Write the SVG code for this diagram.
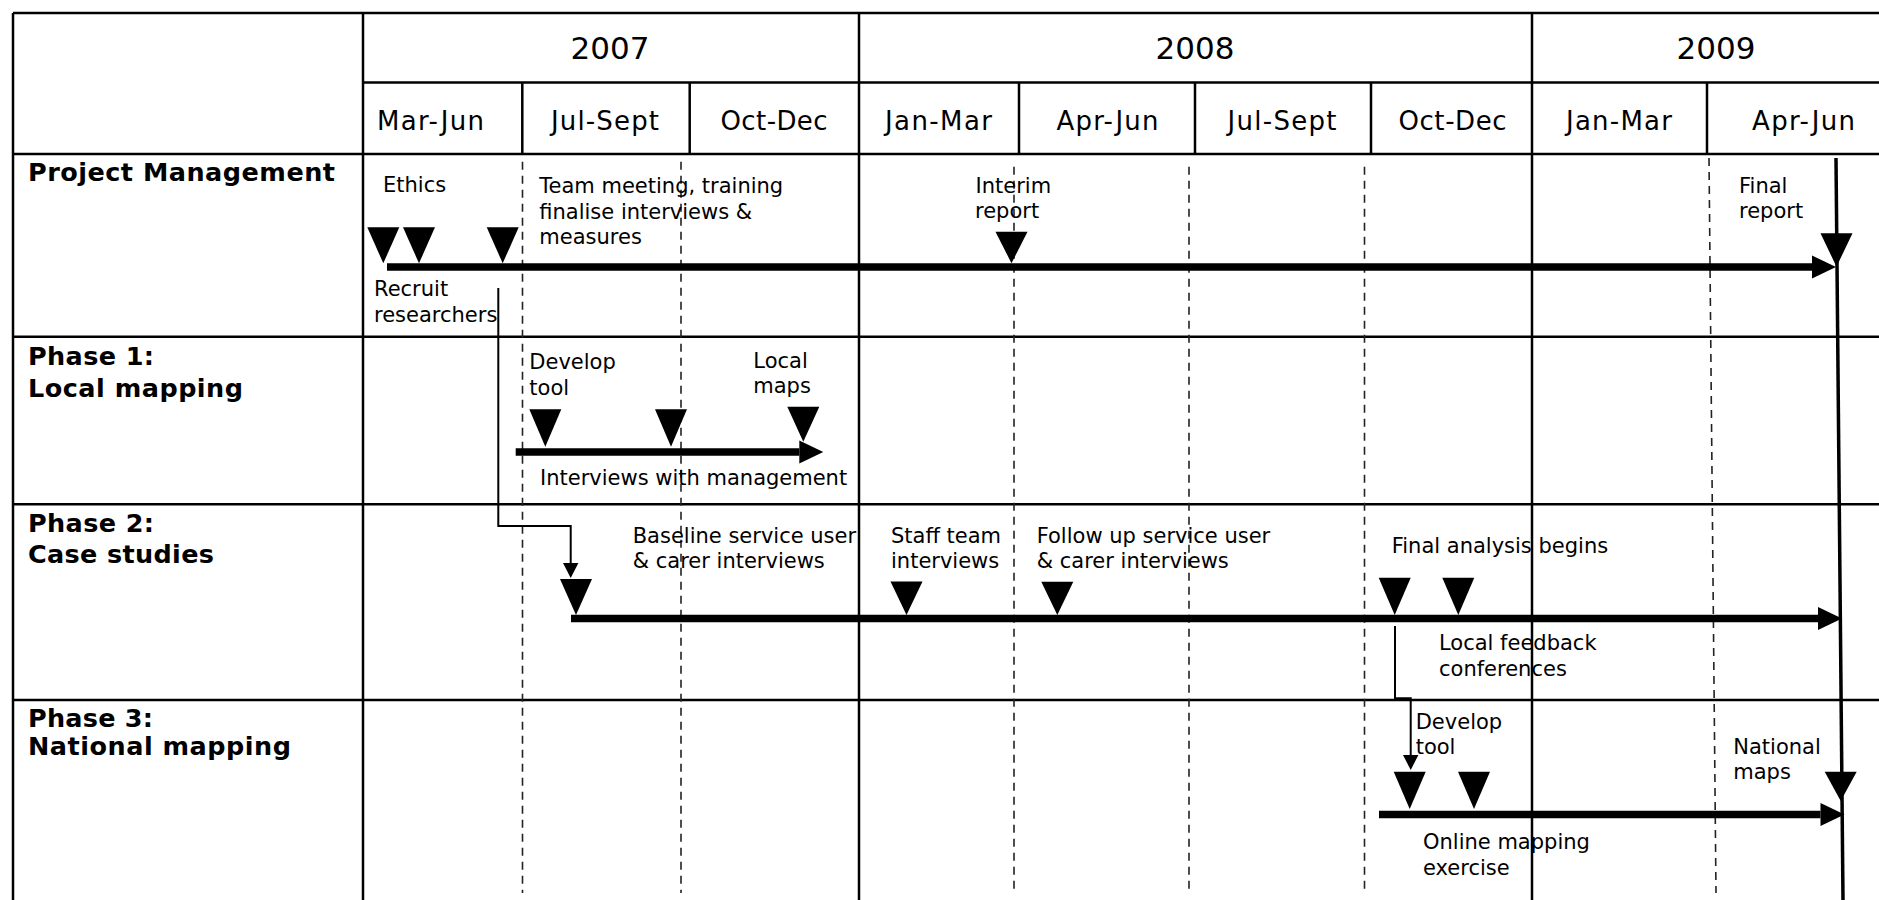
<svg xmlns="http://www.w3.org/2000/svg" width="1879" height="900" viewBox="0 0 1879 900">
<style>
text{font-family:"DejaVu Sans","Verdana",sans-serif;fill:#000}
.yr{font-size:31px;text-anchor:middle}
.mo{font-size:26px;text-anchor:middle}
.lbl{font-size:25.5px;font-weight:bold}
.t{font-size:21px}
.grid{stroke:#000;stroke-width:2.5;fill:none}
.dash{stroke:#222;stroke-width:1.6;stroke-dasharray:8 6;fill:none}
.tri{fill:#000}
.bar{stroke:#000;stroke-width:7.5;fill:none}
.conn{stroke:#000;stroke-width:2;fill:none}
.head{fill:#000}
</style>
<defs>
<marker id="big" markerUnits="userSpaceOnUse" markerWidth="24" markerHeight="24" refX="0" refY="11.5" orient="auto" overflow="visible">
<path d="M0,0 L24,11.5 L0,23 z" fill="#000"/>
</marker>
</defs>
<rect x="0" y="0" width="1879" height="900" fill="#fff"/>

<g id="grid">
<path class="grid" d="M13,13 H1879 M363,82.5 H1879 M13,154 H1879 M13,336.7 H1879 M13,504.3 H1879 M13,700 H1879"/>
<path class="grid" d="M13,13 V900 M363,13 V900 M859,13 V900 M1532,13 V900"/>
<path class="grid" d="M522.3,82.5 V154 M689.7,82.5 V154 M1019,82.5 V154 M1195,82.5 V154 M1371,82.5 V154 M1707,82.5 V154"/>
</g>

<g id="quarter-guides">
<path class="dash" d="M522.5,161.7 V893 M681,161.7 V893 M1014,166.7 V893 M1189,166.7 V893 M1364.5,166.7 V893 M1709,158 L1716,893"/>
</g>

<g id="header">
<text class="yr" x="610" y="59">2007</text>
<text class="yr" x="1195" y="59">2008</text>
<text class="yr" x="1716" y="59">2009</text>
<text class="mo" x="430.5" y="129.5" textLength="107" lengthAdjust="spacing">Mar-Jun</text>
<text class="mo" x="605" y="129.5" textLength="108" lengthAdjust="spacing">Jul-Sept</text>
<text class="mo" x="774" y="129.5" textLength="107" lengthAdjust="spacing">Oct-Dec</text>
<text class="mo" x="938.5" y="129.5" textLength="107" lengthAdjust="spacing">Jan-Mar</text>
<text class="mo" x="1107.5" y="129.5" textLength="102" lengthAdjust="spacing">Apr-Jun</text>
<text class="mo" x="1282" y="129.5" textLength="109" lengthAdjust="spacing">Jul-Sept</text>
<text class="mo" x="1452.5" y="129.5" textLength="108" lengthAdjust="spacing">Oct-Dec</text>
<text class="mo" x="1619" y="129.5" textLength="106" lengthAdjust="spacing">Jan-Mar</text>
<text class="mo" x="1803.5" y="129.5" textLength="103" lengthAdjust="spacing">Apr-Jun</text>
</g>

<g id="row-labels">
<text class="lbl" x="28" y="181" textLength="307" lengthAdjust="spacing">Project Management</text>
<text class="lbl" x="28" y="365" textLength="126" lengthAdjust="spacing">Phase 1:</text>
<text class="lbl" x="28" y="396.7" textLength="215" lengthAdjust="spacing">Local mapping</text>
<text class="lbl" x="28" y="531.7" textLength="126" lengthAdjust="spacing">Phase 2:</text>
<text class="lbl" x="28" y="563.3" textLength="186" lengthAdjust="spacing">Case studies</text>
<text class="lbl" x="28" y="727.3" textLength="125" lengthAdjust="spacing">Phase 3:</text>
<text class="lbl" x="28" y="755" textLength="263" lengthAdjust="spacing">National mapping</text>
</g>

<g id="timelines">
<line class="bar" x1="387" y1="267" x2="1812" y2="267" marker-end="url(#big)"/>
<line class="bar" x1="515.7" y1="452" x2="799.3" y2="452" marker-end="url(#big)"/>
<line class="bar" x1="571" y1="618.5" x2="1818" y2="618.5" marker-end="url(#big)"/>
<line class="bar" x1="1379" y1="814.5" x2="1820.5" y2="814.5" marker-end="url(#big)"/>
</g>

<g id="ethics">
<polygon class="tri" points="367.3,227.3 399.3,227.3 383.3,263.3"/>
<text class="t" x="383" y="191.7">Ethics</text>
</g>
<g id="recruit">
<polygon class="tri" points="403,227.3 435,227.3 419,263.3"/>
<text class="t" x="374" y="295.7">Recruit</text>
<text class="t" x="374" y="321.7">researchers</text>
</g>
<g id="team-meeting">
<polygon class="tri" points="486.7,227.3 518.7,227.3 502.7,263.3"/>
<text class="t" x="539.3" y="193.3">Team meeting, training</text>
<text class="t" x="539.3" y="219.3">finalise interviews &amp;</text>
<text class="t" x="539.3" y="244.3">measures</text>
</g>
<g id="interim-report">
<polygon class="tri" points="995.5,231.7 1027.5,231.7 1011.5,263.3"/>
<text class="t" x="975.5" y="193.3">Interim</text>
<text class="t" x="975" y="218.3">report</text>
</g>
<g id="final-report">
<polygon class="tri" points="1820.5,233.3 1852.5,233.3 1836.5,266.7"/>
<text class="t" x="1739" y="192.7">Final</text>
<text class="t" x="1739" y="218.3">report</text>
</g>

<g id="p1-develop-tool">
<polygon class="tri" points="529.3,409.3 561.3,409.3 545.3,446.7"/>
<text class="t" x="529.3" y="369.3">Develop</text>
<text class="t" x="529.3" y="395">tool</text>
</g>
<g id="p1-mid">
<polygon class="tri" points="655,409.3 687,409.3 671,446.7"/>
</g>
<g id="p1-local-maps">
<polygon class="tri" points="787.3,406.7 819.3,406.7 803.3,441.7"/>
<text class="t" x="753.3" y="367.7">Local</text>
<text class="t" x="753.3" y="393.3">maps</text>
</g>
<g id="p1-interviews">
<text class="t" x="540" y="485">Interviews with management</text>
</g>

<g id="p2-baseline">
<polygon class="tri" points="560,579 592,579 576,615"/>
<text class="t" x="632.7" y="542.7">Baseline service user</text>
<text class="t" x="632.7" y="568.3">&amp; carer interviews</text>
</g>
<g id="p2-staff">
<polygon class="tri" points="890.5,581.5 922.5,581.5 906.5,615"/>
<text class="t" x="891" y="542.7">Staff team</text>
<text class="t" x="891" y="568.3">interviews</text>
</g>
<g id="p2-follow-up">
<polygon class="tri" points="1041.3,581.7 1073.3,581.7 1057.3,615"/>
<text class="t" x="1036.7" y="542.7">Follow up service user</text>
<text class="t" x="1036.7" y="567.7">&amp; carer interviews</text>
</g>
<g id="p2-final-analysis">
<polygon class="tri" points="1378.7,577.7 1410.7,577.7 1394.7,615"/>
<text class="t" x="1391.7" y="552.7">Final analysis begins</text>
</g>
<g id="p2-feedback">
<polygon class="tri" points="1442.3,577.7 1474.3,577.7 1458.3,615"/>
<text class="t" x="1439" y="650">Local feedback</text>
<text class="t" x="1439" y="675.7">conferences</text>
</g>

<g id="p3-develop-tool">
<polygon class="tri" points="1393.7,771.7 1425.7,771.7 1409.7,809"/>
<text class="t" x="1415.7" y="729">Develop</text>
<text class="t" x="1415.7" y="754.3">tool</text>
</g>
<g id="p3-online">
<polygon class="tri" points="1458,771.7 1490,771.7 1474,809"/>
<text class="t" x="1423" y="849.3">Online mapping</text>
<text class="t" x="1423" y="875">exercise</text>
</g>
<g id="p3-national-maps">
<polygon class="tri" points="1824.7,771.7 1856.7,771.7 1840.7,801"/>
<text class="t" x="1733.3" y="754">National</text>
<text class="t" x="1733.3" y="779.3">maps</text>
</g>

<g id="connectors">
<path class="conn" d="M498.3,288 V526 H570.7 V563"/>
<polygon class="head" points="563,563 578.4,563 570.7,578"/>
<path class="conn" d="M1395,626 V698.3 H1410.7 V755"/>
<polygon class="head" points="1403,755 1418.4,755 1410.7,770"/>
<path d="M1836,158 L1843,900" stroke="#000" stroke-width="3.5" fill="none"/>
</g>
</svg>
